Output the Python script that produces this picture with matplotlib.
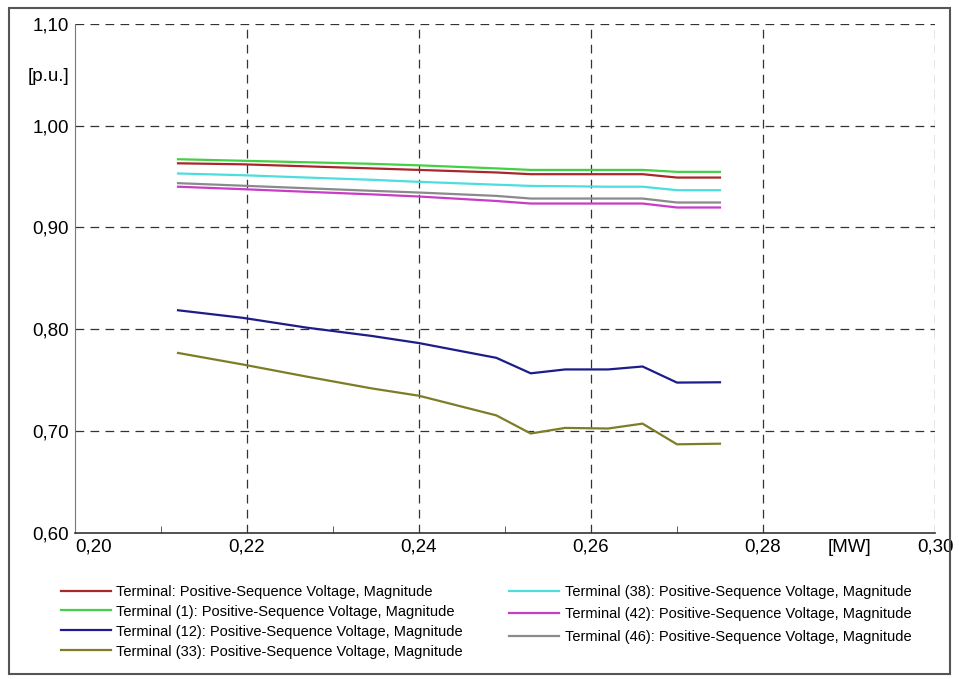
import matplotlib
matplotlib.use('Agg')
import matplotlib.pyplot as plt
from matplotlib.patches import Rectangle

# active power [MW]
p_mw = [0.212, 0.2195, 0.227, 0.2345, 0.240, 0.249, 0.253, 0.257, 0.262, 0.266, 0.270, 0.275]

# positive-sequence voltage magnitude [p.u.]
v_term = [0.963, 0.962, 0.960, 0.958, 0.9565, 0.954, 0.9523, 0.9523, 0.9523, 0.9523, 0.949, 0.949]
v_t1 = [0.967, 0.9655, 0.964, 0.9625, 0.961, 0.958, 0.9565, 0.9565, 0.9565, 0.9565, 0.9546, 0.9546]
v_t12 = [0.8187, 0.8113, 0.8016, 0.7935, 0.7865, 0.772, 0.7568, 0.7606, 0.7606, 0.7635, 0.7477, 0.748]
v_t33 = [0.7768, 0.7655, 0.7535, 0.742, 0.7348, 0.7155, 0.6977, 0.7032, 0.7026, 0.7074, 0.6871, 0.6877]
v_t38 = [0.953, 0.9513, 0.949, 0.9468, 0.9448, 0.942, 0.9408, 0.9405, 0.940, 0.940, 0.9366, 0.9366]
v_t42 = [0.940, 0.9376, 0.935, 0.9325, 0.9304, 0.926, 0.9235, 0.9235, 0.9235, 0.9235, 0.9196, 0.9196]
v_t46 = [0.9435, 0.941, 0.9385, 0.936, 0.9343, 0.931, 0.9284, 0.9284, 0.9284, 0.9284, 0.9245, 0.9245]

labels = [
    'Terminal: Positive-Sequence Voltage, Magnitude',
    'Terminal (1): Positive-Sequence Voltage, Magnitude',
    'Terminal (12): Positive-Sequence Voltage, Magnitude',
    'Terminal (33): Positive-Sequence Voltage, Magnitude',
    'Terminal (38): Positive-Sequence Voltage, Magnitude',
    'Terminal (42): Positive-Sequence Voltage, Magnitude',
    'Terminal (46): Positive-Sequence Voltage, Magnitude',
]
series = [v_term, v_t1, v_t12, v_t33, v_t38, v_t42, v_t46]
colors = ['#a8282a', '#44d044', '#1c1c8a', '#7d7d28', '#4cdede', '#c83cc8', '#8a8a8a']

x_ticks = [0.20, 0.22, 0.24, 0.26, 0.28, 0.29, 0.30]
x_labels = ['0,20', '0,22', '0,24', '0,26', '0,28', '[MW]', '0,30']
y_ticks = [0.60, 0.70, 0.80, 0.90, 1.00, 1.05, 1.10]
y_labels = ['0,60', '0,70', '0,80', '0,90', '1,00', '[p.u.]', '1,10']

plt.rcParams['font.family'] = ['Liberation Sans', 'DejaVu Sans']

fig = plt.figure(figsize=(9.59, 6.79), dpi=100)
ax = fig.add_axes([0.078, 0.215, 0.897, 0.75])

handles = []
for ys, c, lab in zip(series, colors, labels):
    h, = ax.plot(p_mw, ys, color=c, lw=1.6, label=lab)
    handles.append(h)

ax.set_xlim(0.20, 0.30)
ax.set_ylim(0.60, 1.10)
ax.set_xticks(x_ticks)
ax.set_xticklabels(x_labels, fontsize=13.5)
ax.get_xticklabels()[0].set_horizontalalignment('left')
ax.set_yticks(y_ticks)
ax.set_yticklabels(y_labels, fontsize=13.5)
ax.set_xticks([0.21, 0.23, 0.25, 0.27, 0.29], minor=True)
ax.tick_params(axis='both', which='both', direction='in', length=0, pad=4)
ax.tick_params(axis='x', which='minor', length=5, color='#444444')

# dashed grid
for gx in [0.22, 0.24, 0.26, 0.28, 0.30]:
    ax.axvline(gx, color='#333333', lw=0.9, ls=(0, (7, 5)), zorder=0)
for gy in [0.70, 0.80, 0.90, 1.00, 1.10]:
    ax.axhline(gy, color='#333333', lw=0.9, ls=(0, (7, 5)), zorder=0)

ax.spines['top'].set_visible(False)
ax.spines['right'].set_visible(False)
ax.spines['left'].set_color('#777777')
ax.spines['bottom'].set_color('#333333')
ax.spines['bottom'].set_linewidth(1.2)

leg1 = fig.legend(handles=handles[:4], loc='upper left', bbox_to_anchor=(0.064, 0.139),
                  frameon=False, fontsize=10.5, handlelength=3.4, handletextpad=0.35,
                  labelspacing=0.41, borderpad=0, borderaxespad=0)
leg2 = fig.legend(handles=handles[4:], loc='upper left', bbox_to_anchor=(0.531, 0.139),
                  frameon=False, fontsize=10.5, handlelength=3.4, handletextpad=0.45,
                  labelspacing=0.6, borderpad=0, borderaxespad=0)

# outer frame
fig.patches.append(Rectangle((0.009, 0.008), 0.982, 0.98, transform=fig.transFigure,
                             fill=False, edgecolor='#555555', lw=1.5))

fig.savefig('out.png', dpi=100)
